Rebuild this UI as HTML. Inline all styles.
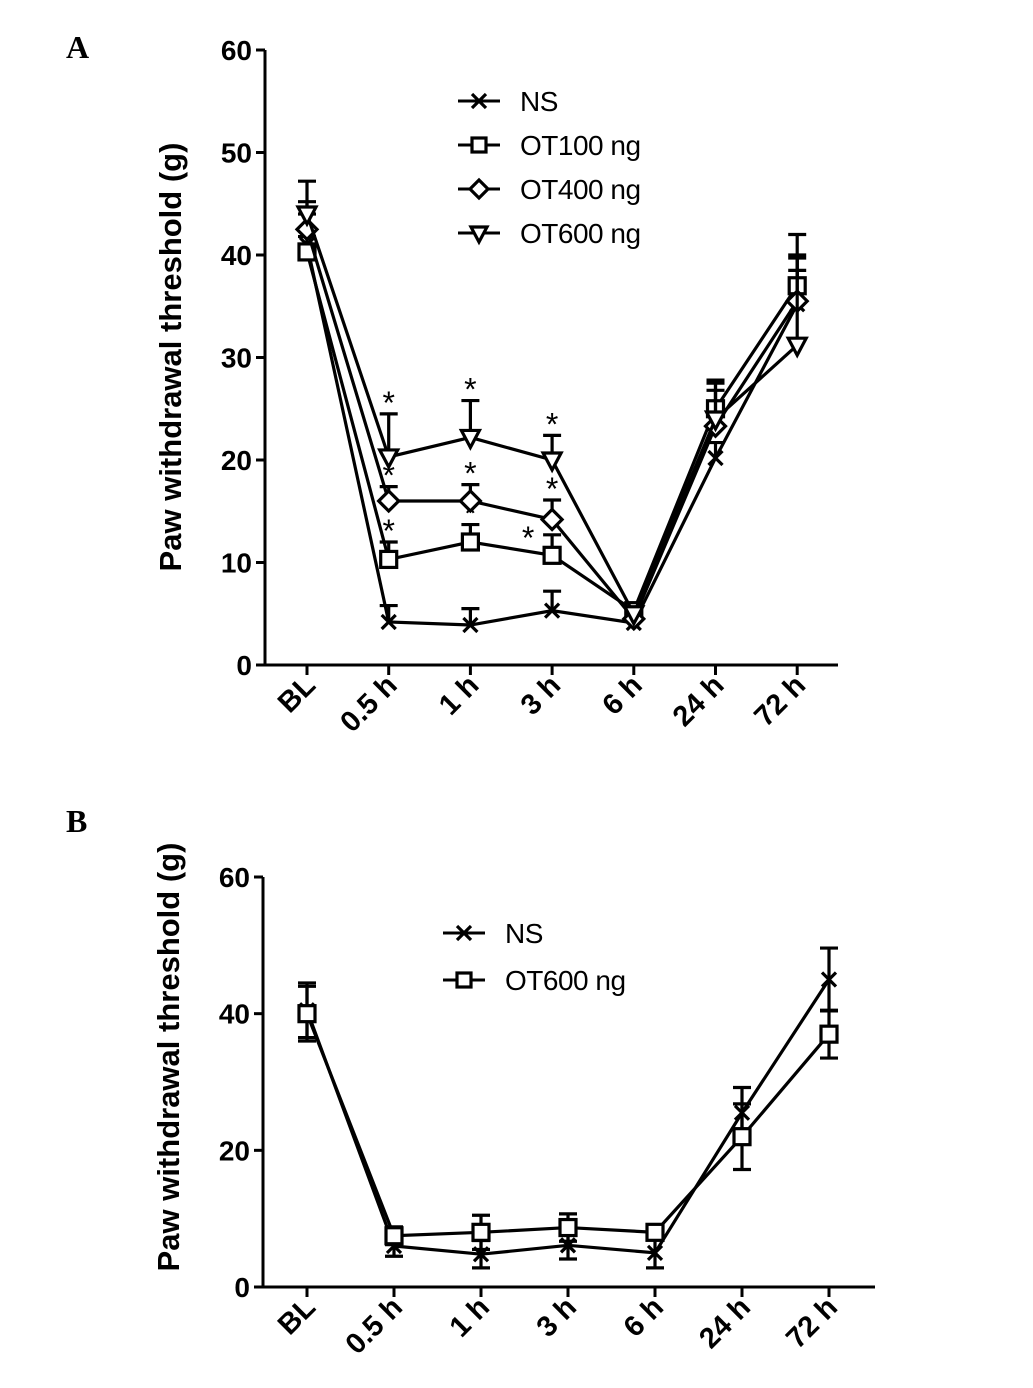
<!DOCTYPE html>
<html><head><meta charset="utf-8"><style>
body{margin:0;background:#fff;}
svg{display:block;font-family:"Liberation Sans",Arial,sans-serif;}
</style></head><body>
<svg id="c" width="1033" height="1388" viewBox="0 0 1033 1388"></svg>
<script>
const categories=["BL","0.5 h","1 h","3 h","6 h","24 h","72 h"];
const aTicks=[0,10,20,30,40,50,60];
const bTicks=[0,20,40,60];
const aNS=[41,4.2,3.9,5.3,4.1,20.2,35.2];
const aNSerr=[6.2,1.6,1.6,1.9,0.6,1.5,4.5];
const aOT100=[40.3,10.3,12,10.7,5.3,25,37];
const aOT100err=[1.5,1.7,1.7,2,0.6,2.8,3];
const aOT400=[42.5,16,16,14.2,4.5,23.3,35.5];
const aOT400err=[1.5,1.4,1.6,1.9,0.6,3.5,3];
const aOT600=[44,20.3,22.2,20,5,24,31.2];
const aOT600err=[1.2,4.2,3.6,2.4,0.6,3.5,10.8];
const aStars=[[1,2,3],[1,2,3],[1,2,3]];
const bNS=[40.5,6,4.8,6.1,5,25.5,45];
const bNSerr=[4,1.5,2,2,2.2,3.7,4.6];
const bOT600=[40,7.5,8,8.7,8,22,37];
const bOT600err=[4,1.3,2.5,2,1,4.8,3.5];

const NS="http://www.w3.org/2000/svg";
const svg=document.getElementById('c');
function el(t,a,p){const e=document.createElementNS(NS,t);for(const k in a)e.setAttribute(k,a[k]);(p||svg).appendChild(e);return e;}
function marker(g,type,x,y,s){
  const st={fill:'#fff',stroke:'#000','stroke-width':3.2};
  if(type==='x'){el('path',{d:`M${x-7} ${y-7}L${x+7} ${y+7}M${x-7} ${y+7}L${x+7} ${y-7}`,stroke:'#000','stroke-width':3.2},g);}
  else if(type==='sq'){el('rect',Object.assign({x:x-s,y:y-s,width:2*s,height:2*s},st),g);}
  else if(type==='di'){el('path',Object.assign({d:`M${x} ${y-s-2}L${x+s+2} ${y}L${x} ${y+s+2}L${x-s-2} ${y}Z`},st),g);}
  else if(type==='tri'){el('path',Object.assign({d:`M${x-s-1} ${y-s+1}L${x+s+1} ${y-s+1}L${x} ${y+s+2}Z`},st),g);}
}
function panel(cfg){
  const {x0,x1,y0,yTop,vmax,xs,ticks,series,name,title,tyc}=cfg;
  const g=el('g',{});  
  const Y=v=>y0-(v/vmax)*(y0-yTop);
  const X=i=>xs[0]+i*(xs[1]-xs[0]);
  const ax=el('g',{},g);  
  el('path',{d:`M${x0} ${yTop}L${x0} ${y0}L${x1} ${y0}`,stroke:'#000','stroke-width':3,fill:'none'},ax);
  ticks.forEach(t=>{
    el('line',{x1:x0-9,x2:x0,y1:Y(t),y2:Y(t),stroke:'#000','stroke-width':3},ax);
    const tx=el('text',{x:x0-13,y:Y(t)+10,'text-anchor':'end','font-size':28,'font-weight':'bold'},ax);tx.textContent=t;
     
  });
  categories.forEach((c,i)=>{
    const x=X(i);
    el('line',{x1:x,x2:x,y1:y0,y2:y0+10,stroke:'#000','stroke-width':3},ax);
    const tx=el('text',{x:x+10,y:y0+22,'text-anchor':'end','font-size':29,'font-weight':'bold',transform:`rotate(-45 ${x+10} ${y0+22})`},ax);tx.textContent=c;
     
  });
  const yt=el('text',{x:0,y:0,'text-anchor':'middle','font-size':31,'font-weight':'bold',transform:`translate(${x0-84} ${tyc}) rotate(-90)`},g);
  yt.textContent=title;  
  series.forEach(s=>{
    const sg=el('g',{},g);  
    el('polyline',{points:s.v.map((v,i)=>X(i)+','+Y(v)).join(' '),fill:'none',stroke:'#000','stroke-width':3.2},sg);
    s.v.forEach((v,i)=>{
      const x=X(i),ye=Y(v+s.e[i]);
      el('line',{x1:x,x2:x,y1:Y(v),y2:ye,stroke:'#000','stroke-width':3.2},sg);
      el('line',{x1:x-9,x2:x+9,y1:ye,y2:ye,stroke:'#000','stroke-width':3.2},sg);
      if(s.both){const yb=Y(v-s.e[i]);el('line',{x1:x,x2:x,y1:Y(v),y2:yb,stroke:'#000','stroke-width':3.2},sg);el('line',{x1:x-9,x2:x+9,y1:yb,y2:yb,stroke:'#000','stroke-width':3.2},sg);}
    });
    s.v.forEach((v,i)=>marker(sg,s.m,X(i),Y(v),8));
    if(s.stars) s.stars.forEach(i=>{const sh=(s.key==='ot100'&&i===3);const t=el('text',{x:X(i)+(sh?-24:0),y:Y(s.v[i]+s.e[i])+10+(sh?4:-10),'text-anchor':'middle','font-size':32},sg);t.textContent='*';});
  });
  cfg.legend.forEach((l,k)=>{
    const lg=el('g',{},g);  
    const y=cfg.ly+k*cfg.ld;
    el('line',{x1:cfg.lx,x2:cfg.lx+42,y1:y,y2:y,stroke:'#000','stroke-width':3},lg);
    marker(lg,l.m,cfg.lx+21,y,7);
    const t=el('text',{x:cfg.lx+62,y:y+10,'font-size':28,'letter-spacing':-0.5},lg);t.textContent=l.t;
  });
}
panel({name:'panel-a',x0:265,x1:838,y0:665,yTop:50,vmax:60,xs:[307,388.7],ticks:aTicks,title:'Paw withdrawal threshold (g)',tyc:357,
 series:[{key:'ns',m:'x',v:aNS,e:aNSerr},{key:'ot100',m:'sq',v:aOT100,e:aOT100err,stars:aStars[0]},{key:'ot400',m:'di',v:aOT400,e:aOT400err,stars:aStars[1]},{key:'ot600',m:'tri',v:aOT600,e:aOT600err,stars:aStars[2]}],
 legend:[{m:'x',t:'NS'},{m:'sq',t:'OT100 ng'},{m:'di',t:'OT400 ng'},{m:'tri',t:'OT600 ng'}],lx:458,ly:101,ld:44});
panel({name:'panel-b',x0:263,x1:875,y0:1287,yTop:877,vmax:60,xs:[307,394],ticks:bTicks,title:'Paw withdrawal threshold (g)',tyc:1057,
 series:[{key:'ns',m:'x',v:bNS,e:bNSerr,both:true},{key:'ot600',m:'sq',v:bOT600,e:bOT600err,both:true}],
 legend:[{m:'x',t:'NS'},{m:'sq',t:'OT600 ng'}],lx:443,ly:933,ld:47});
const A=el('text',{x:66,y:58,'font-size':32,'font-weight':'bold','font-family':'Liberation Serif,serif'});A.textContent='A';

const B=el('text',{x:66,y:832,'font-size':32,'font-weight':'bold','font-family':'Liberation Serif,serif'});B.textContent='B';

</script>
</body></html>
